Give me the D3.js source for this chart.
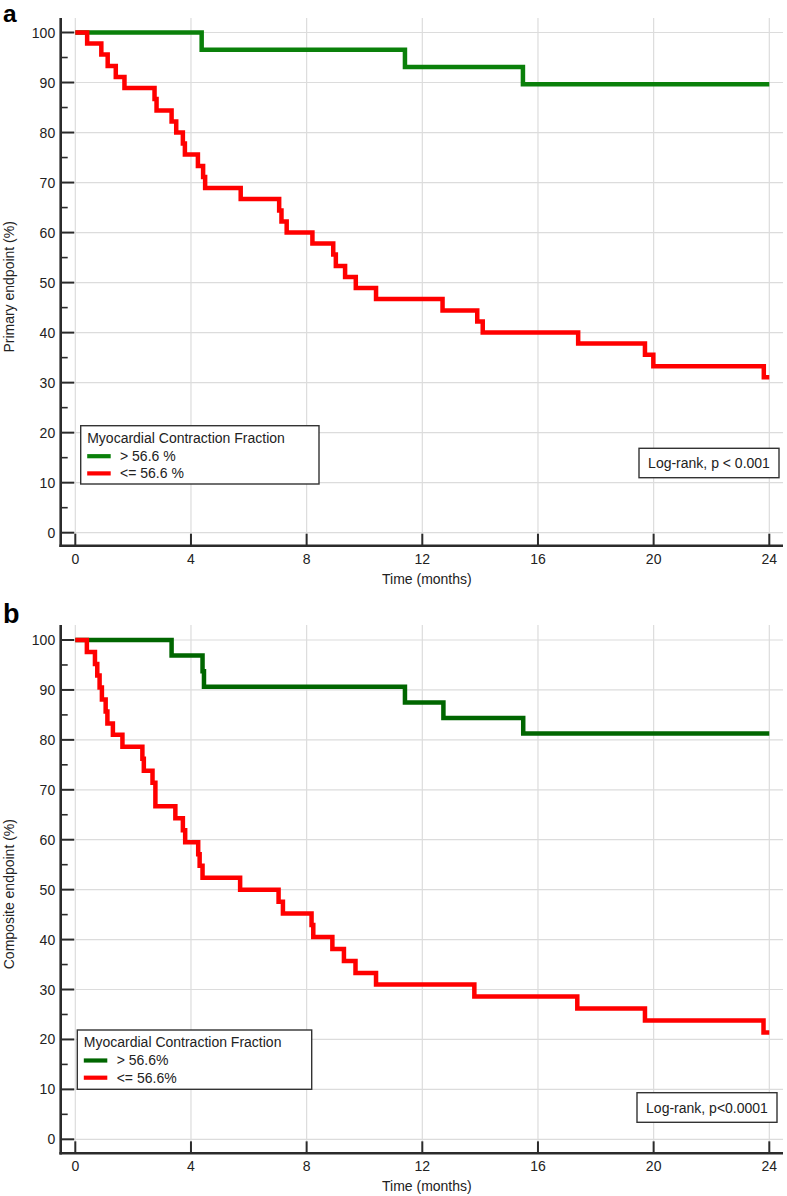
<!DOCTYPE html>
<html><head><meta charset="utf-8">
<script src="https://cdn.jsdelivr.net/npm/d3@7"></script>
<style>body{margin:0;background:#fff} text{font-family:"Liberation Sans",Arial,Helvetica,sans-serif;fill:#222}</style>
</head><body>
<svg id="c" width="787" height="1196"></svg>
<script>
// ---------- data ----------
const timeTicks = [0, 4, 8, 12, 16, 20, 24];
const pctTicks = [0, 10, 20, 30, 40, 50, 60, 70, 80, 90, 100];
const pctMinorTicks = [5, 15, 25, 35, 45, 55, 65, 75, 85, 95];
const followUpEnd = 24;
const xTitle = "Time (months)";
const legendTitle = "Myocardial Contraction Fraction";

// panel a
const aYTitle = "Primary endpoint (%)";
const aLegendLabels = ["> 56.6 %", "<= 56.6 %"];
const aLogRank = "Log-rank, p < 0.001";
const aHighTimes = [4.37, 11.4, 15.48];
const aHighSurv  = [96.55, 93.10, 89.66];
const aLowTimes = [0.41, 0.9, 1.12, 1.4, 1.7, 2.74, 2.81, 3.33, 3.49, 3.72, 3.79, 4.24, 4.42, 4.49, 5.72, 7.05, 7.13, 7.31, 8.2, 8.92, 9.01, 9.33, 9.7, 10.4, 12.7, 13.9, 14.09, 17.39, 19.7, 19.99, 23.81];
const aLowSurv  = [97.8, 95.6, 93.3, 91.1, 88.9, 86.7, 84.4, 82.2, 80.0, 77.8, 75.6, 73.3, 71.1, 68.9, 66.7, 64.4, 62.2, 60.0, 57.8, 55.6, 53.3, 51.1, 48.9, 46.7, 44.4, 42.2, 40.0, 37.8, 35.6, 33.3, 31.1];

// panel b
const bYTitle = "Composite endpoint (%)";
const bLegendLabels = ["> 56.6%", "<= 56.6%"];
const bLogRank = "Log-rank, p<0.0001";
const bHighTimes = [3.33, 4.4, 4.45, 11.4, 12.73, 15.49];
const bHighSurv  = [96.88, 93.75, 90.63, 87.5, 84.38, 81.25];
const bLowTimes = [0.4, 0.68, 0.76, 0.84, 0.92, 1.05, 1.11, 1.3, 1.63, 2.32, 2.37, 2.67, 2.77, 2.77, 3.46, 3.72, 3.8, 4.25, 4.3, 4.4, 5.7, 7.03, 7.18, 8.17, 8.23, 8.89, 9.29, 9.69, 10.4, 13.8, 17.36, 19.7, 23.8];
const bLowSurv  = [97.6, 95.2, 92.9, 90.5, 88.1, 85.7, 83.3, 81.0, 78.6, 76.2, 73.8, 71.4, 69.0, 66.7, 64.3, 61.9, 59.5, 57.1, 54.8, 52.4, 50.0, 47.6, 45.2, 42.9, 40.5, 38.1, 35.7, 33.3, 31.0, 28.6, 26.2, 23.8, 21.4];

// ---------- layout ----------
const panels = [
  { label: "a", yTitle: aYTitle, legendLabels: aLegendLabels, logRank: aLogRank,
    high: [aHighTimes, aHighSurv], low: [aLowTimes, aLowSurv],
    green: "#0a800a",
    yRange: [532.7, 32.5], axisBottom: 545.7, top: 18,
    labelY: 21.5, labelSize: 24.5,
    legend: { x: 80.7, y: 425.7, w: 238.3, h: 58.3, textX: 120 },
    lr: { x: 639, y: 448.3, w: 140, h: 29.4 } },
  { label: "b", yTitle: bYTitle, legendLabels: bLegendLabels, logRank: bLogRank,
    high: [bHighTimes, bHighSurv], low: [bLowTimes, bLowSurv],
    green: "#006600",
    yRange: [1139.3, 640], axisBottom: 1153.3, top: 625,
    labelY: 623, labelSize: 27,
    legend: { x: 77.3, y: 1030, w: 234.4, h: 59.3, textX: 116.7 },
    lr: { x: 637, y: 1092.7, w: 140, h: 29.6 } }
];
const xRange = [75.3, 769.3];
const axisLeft = 60.7, plotRight = 783;
const fontSize = 14;

const svg = d3.select("#c");

panels.forEach(p => {
  const g = svg.append("g");
  const x = d3.scaleLinear().domain([0, 24]).range(xRange);
  const y = d3.scaleLinear().domain([0, 100]).range(p.yRange);

  // gridlines
  g.append("g").selectAll("line").data(pctTicks).join("line")
    .attr("x1", axisLeft + 13).attr("x2", plotRight)
    .attr("y1", d => y(d)).attr("y2", d => y(d))
    .attr("stroke", "#dcdcdc").attr("stroke-width", 1.2);
  g.append("g").selectAll("line").data(timeTicks).join("line")
    .attr("x1", d => x(d)).attr("x2", d => x(d))
    .attr("y1", p.top).attr("y2", p.axisBottom - 12)
    .attr("stroke", "#dcdcdc").attr("stroke-width", 1.2);

  // axes
  const axisCol = "#2b2b2b";
  g.append("line").attr("x1", axisLeft).attr("x2", axisLeft)
    .attr("y1", p.top).attr("y2", p.axisBottom + 1.2)
    .attr("stroke", axisCol).attr("stroke-width", 2.6);
  g.append("line").attr("x1", axisLeft - 1.3).attr("x2", plotRight)
    .attr("y1", p.axisBottom).attr("y2", p.axisBottom)
    .attr("stroke", axisCol).attr("stroke-width", 2.6);
  // y major ticks
  g.append("g").selectAll("line").data(pctTicks).join("line")
    .attr("x1", axisLeft).attr("x2", axisLeft + 13.5)
    .attr("y1", d => y(d)).attr("y2", d => y(d))
    .attr("stroke", axisCol).attr("stroke-width", 2);
  g.append("g").selectAll("line").data(pctMinorTicks).join("line")
    .attr("x1", axisLeft).attr("x2", axisLeft + 7)
    .attr("y1", d => y(d)).attr("y2", d => y(d))
    .attr("stroke", axisCol).attr("stroke-width", 1.6);
  g.append("g").selectAll("text").data(pctTicks).join("text")
    .attr("x", axisLeft - 5.5).attr("y", d => y(d) + 5)
    .attr("text-anchor", "end").attr("font-size", fontSize).text(d => d);
  // x ticks
  g.append("g").selectAll("line").data(timeTicks).join("line")
    .attr("x1", d => x(d)).attr("x2", d => x(d))
    .attr("y1", p.axisBottom).attr("y2", p.axisBottom - 12)
    .attr("stroke", axisCol).attr("stroke-width", 2);
  g.append("g").selectAll("text").data(timeTicks).join("text")
    .attr("x", d => x(d)).attr("y", p.axisBottom + 18)
    .attr("text-anchor", "middle").attr("font-size", fontSize).text(d => d);

  // axis titles
  g.append("text").attr("x", (axisLeft + plotRight) / 2 + 5).attr("y", p.axisBottom + 38)
    .attr("text-anchor", "middle").attr("font-size", fontSize).text(xTitle);
  g.append("text")
    .attr("transform", `translate(14,${(p.top + p.axisBottom) / 2 + 5}) rotate(-90)`)
    .attr("text-anchor", "middle").attr("font-size", fontSize).text(p.yTitle);

  // panel letter
  g.append("text").attr("x", 3).attr("y", p.labelY)
    .attr("font-size", p.labelSize).attr("font-weight", "bold").style("fill", "#000").text(p.label);

  // curves
  const line = d3.line().x(d => x(d[0])).y(d => y(d[1])).curve(d3.curveStepAfter);
  const mk = ([ts, ss]) => {
    const pts = [[0, 100]];
    ts.forEach((t, i) => pts.push([t, ss[i]]));
    pts.push([followUpEnd, ss[ss.length - 1]]);
    return pts;
  };
  g.append("path").attr("d", line(mk(p.high))).attr("fill", "none")
    .attr("stroke", p.green).attr("stroke-width", 4.5).attr("stroke-linejoin", "miter");
  g.append("path").attr("d", line(mk(p.low))).attr("fill", "none")
    .attr("stroke", "#ff0000").attr("stroke-width", 4.5).attr("stroke-linejoin", "miter");

  // legend
  const L = p.legend;
  g.append("rect").attr("x", L.x).attr("y", L.y).attr("width", L.w).attr("height", L.h)
    .attr("fill", "#fff").attr("stroke", "#333").attr("stroke-width", 1.4);
  g.append("text").attr("x", L.x + 6.5).attr("y", L.y + 17).attr("font-size", fontSize).text(legendTitle);
  [p.green, "#ff0000"].forEach((c, i) => {
    const cy = L.y + 30.5 + i * 17.2;
    g.append("line").attr("x1", L.x + 6.5).attr("x2", L.x + 30)
      .attr("y1", cy).attr("y2", cy).attr("stroke", c).attr("stroke-width", 4.2);
    g.append("text").attr("x", L.textX).attr("y", cy + 4.8).attr("font-size", fontSize).text(p.legendLabels[i]);
  });

  // log-rank box
  const R = p.lr;
  g.append("rect").attr("x", R.x).attr("y", R.y).attr("width", R.w).attr("height", R.h)
    .attr("fill", "#fff").attr("stroke", "#333").attr("stroke-width", 1.4);
  g.append("text").attr("x", R.x + R.w / 2).attr("y", R.y + R.h / 2 + 5)
    .attr("text-anchor", "middle").attr("font-size", fontSize).text(p.logRank);
});
</script>
</body></html>
